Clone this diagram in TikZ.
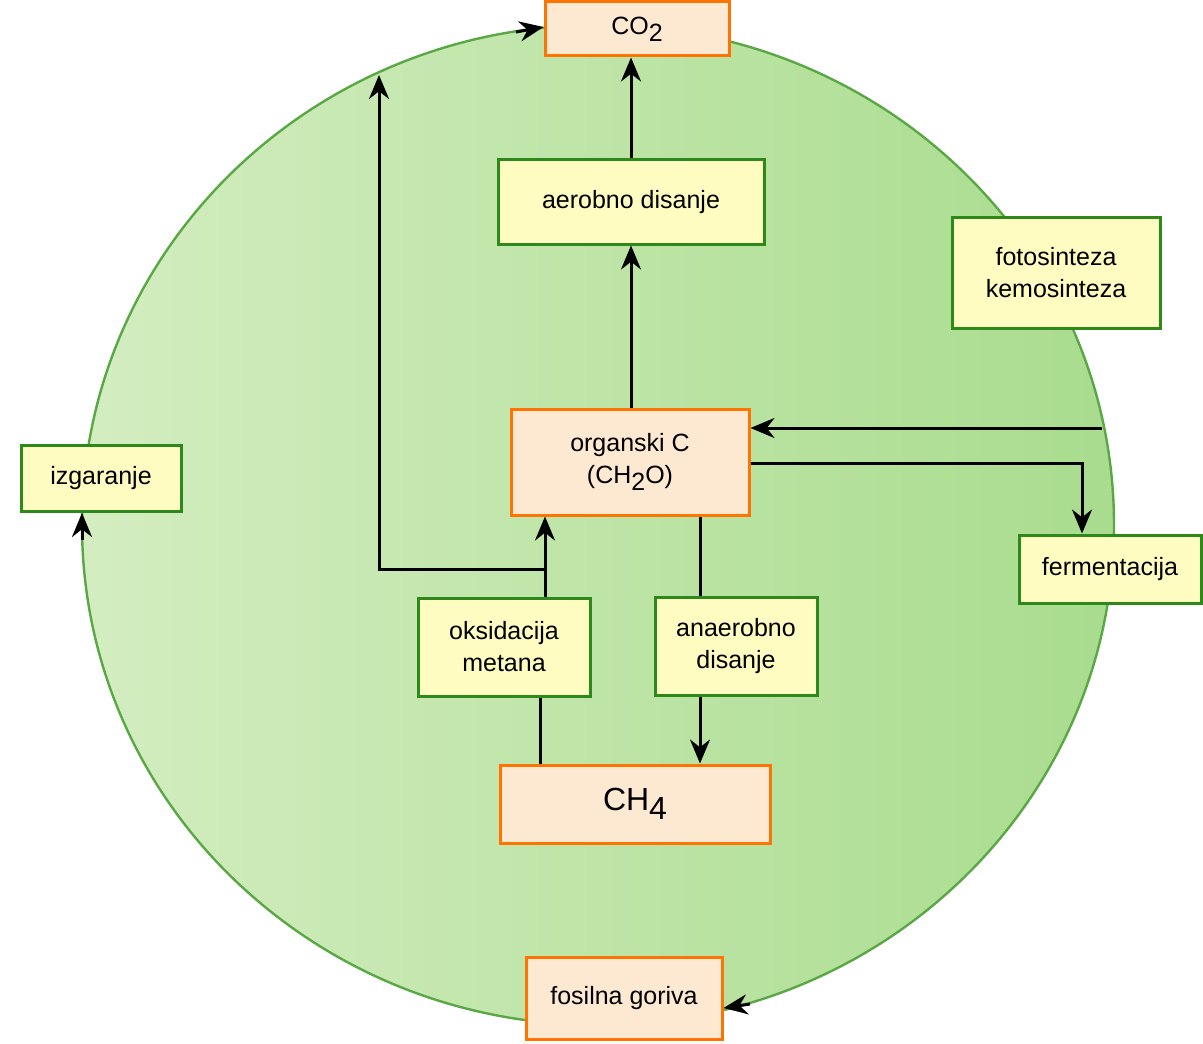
\documentclass[tikz,border=0pt]{standalone}
\usepackage{fontspec}
\setmainfont{Liberation Sans}
\usepackage{xcolor}
\usetikzlibrary{arrows.meta, positioning}
\definecolor{peach}{HTML}{FDE8D2}
\definecolor{cream}{HTML}{FFFCC2}
\definecolor{boxgreen}{HTML}{2D8A1A}
\definecolor{ringgreen}{HTML}{5AA845}
\definecolor{ringleft}{HTML}{D3EDC0}
\definecolor{ringright}{HTML}{A9DC8E}
\newcommand{\lowsub}[1]{\raisebox{-0.55ex}{#1}}
\begin{document}
\begin{tikzpicture}[x=0.5pt, y=-0.5pt,
proc/.style = {draw=boxgreen, line width=1.5pt, fill=cream, align=center,
               inner sep=0pt, font=\fontsize{12.5}{16}\selectfont},
subst/.style = {draw=orange!90!red, line width=1.5pt, fill=peach, align=center,
                inner sep=0pt, font=\fontsize{12.5}{16}\selectfont},
arr/.style = {line width=1.5pt, -{Stealth[length=12pt, width=10pt]}},
ln/.style = {line width=1.5pt},
                        ]
\useasboundingbox (0,0) rectangle (1203,1043);
\shade[left color=ringleft, right color=ringright, draw=ringgreen, line width=1.2pt]
    (598,525) ellipse [x radius=516, y radius=500];
% boxes
\node (co2)   [subst, minimum width=92pt,  minimum height=27pt]   at (637,29)   {CO\lowsub{2}};
\node (aer)   [proc,  minimum width=133pt, minimum height=42pt]   at (631,202)  {aerobno disanje};
\node (foto)  [proc,  minimum width=104pt, minimum height=55pt]   at (1056,273) {fotosinteza\\kemosinteza};
\node (org)   [subst, minimum width=119pt, minimum height=53pt]   at (630,462)  {organski C\\(CH\lowsub{2}O)};
\node (izg)   [proc,  minimum width=80pt,  minimum height=33pt]   at (101,478)  {izgaranje};
\node (ferm)  [proc,  minimum width=91pt,  minimum height=34pt]   at (1110,569) {fermentacija};
\node (oks)   [proc,  minimum width=86pt,  minimum height=49pt]   at (504,647)  {oksidacija\\metana};
\node (anaer) [proc,  minimum width=81pt,  minimum height=49pt]   at (736,646)  {anaerobno\\disanje};
\node (ch4)   [subst, minimum width=135pt, minimum height=39pt, font=\fontsize{16}{19}\selectfont] at (635,804) {CH\lowsub{4}};
\node (fos)   [subst, minimum width=98pt,  minimum height=41pt]   at (624,998)  {fosilna goriva};
% connectors
\coordinate (rin)  at (1102,428);
\coordinate (lup)  at (379,75);
\draw[arr] (aer.north) -- (aer.north |- co2.south);
\draw[arr] (org.north -| aer.north) -- (aer.south);
\draw[arr] (rin) -- (org.east |- rin);
\draw[arr] (org.east |- 0,463) -| (ferm.north -| 1082,0);
\draw[ln]  (org.south -| 700,0) -- (anaer.north -| 700,0);
\draw[arr] (anaer.south -| 700,0) -- (ch4.north -| 700,0);
\draw[ln]  (ch4.north -| 540,0) -- (oks.south -| 540,0);
\draw[arr] (oks.north -| 545,0) -- (org.south -| 545,0);
\draw[arr] (545,569) -| (lup);
% arrows along the ring
\draw[arr] (516,32) -- (co2.west |- 0,27);
\draw[arr] (82,540) -- (82,513);
\draw[arr] (750,1004) -- (fos.east |- 0,1008);
\end{tikzpicture}
\end{document}
